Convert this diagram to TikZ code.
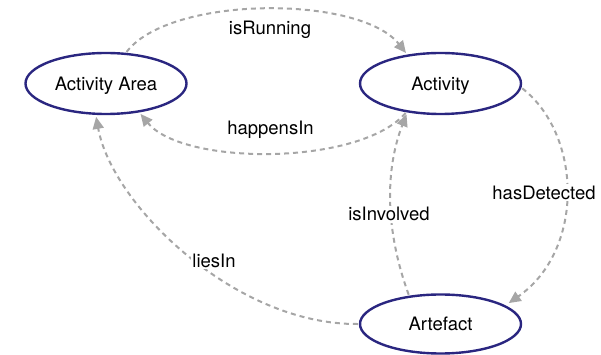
\documentclass[tikz,border=0pt]{standalone}
\usepackage{fontspec}
\setmainfont{TeX Gyre Heros}
\usetikzlibrary{shapes.geometric,arrows.meta}
\definecolor{navy}{HTML}{2A2680}
\definecolor{edgegray}{HTML}{A6A6A6}
\tikzset{
  cls/.style={ellipse,draw=navy,line width=2.4pt,fill=white,inner sep=0pt,
    minimum width=161pt,minimum height=61pt,text height=13.2pt,text depth=0pt,
    font=\fontsize{18.5}{20}\selectfont},
  rel/.style={draw=edgegray,line width=2pt,dash pattern=on 5pt off 4pt,
    -{Triangle[length=12pt,width=11pt,fill=edgegray]},shorten >=2pt,shorten <=1pt},
  lbl/.style={anchor=base,fill=white,inner sep=1.5pt,font=\fontsize{18.5}{20}\selectfont}
}
\begin{document}
\begin{tikzpicture}[x=1pt,y=1pt]
\useasboundingbox (0,0) rectangle (601,355);
\node[cls] (area) at (106,271.5) {Activity Area};
\node[cls] (act) at (440.5,271.5) {Activity};
\node[cls,minimum height=59pt] (art) at (440.5,31) {Artefact};

\draw[rel] (area.57) .. controls (170,360) and (360,360) .. (act.139);
\draw[rel] (act.-140) .. controls (360,189) and (183,189) .. (area.-41);
\draw[rel] (art.138) .. controls (385,125) and (385,185) .. (act.-139);
\draw[rel,shorten >=4pt] (act.-3) .. controls (582,220) and (585,105) .. (art.16);
\draw[rel] (art.180) .. controls (235,30) and (112,150) .. (area.-108);

\node[lbl,fill=none] (l1) at (270,320.7) {isRunning};
\node[lbl,fill=none] (l2) at (270.5,220) {happensIn};
\node[lbl] (l3) at (544,155.7) {hasDetected};
\node[lbl] (l4) at (389,134) {isInvolved};
\node[lbl] (l5) at (214,87.3) {liesIn};
\end{tikzpicture}
\end{document}
